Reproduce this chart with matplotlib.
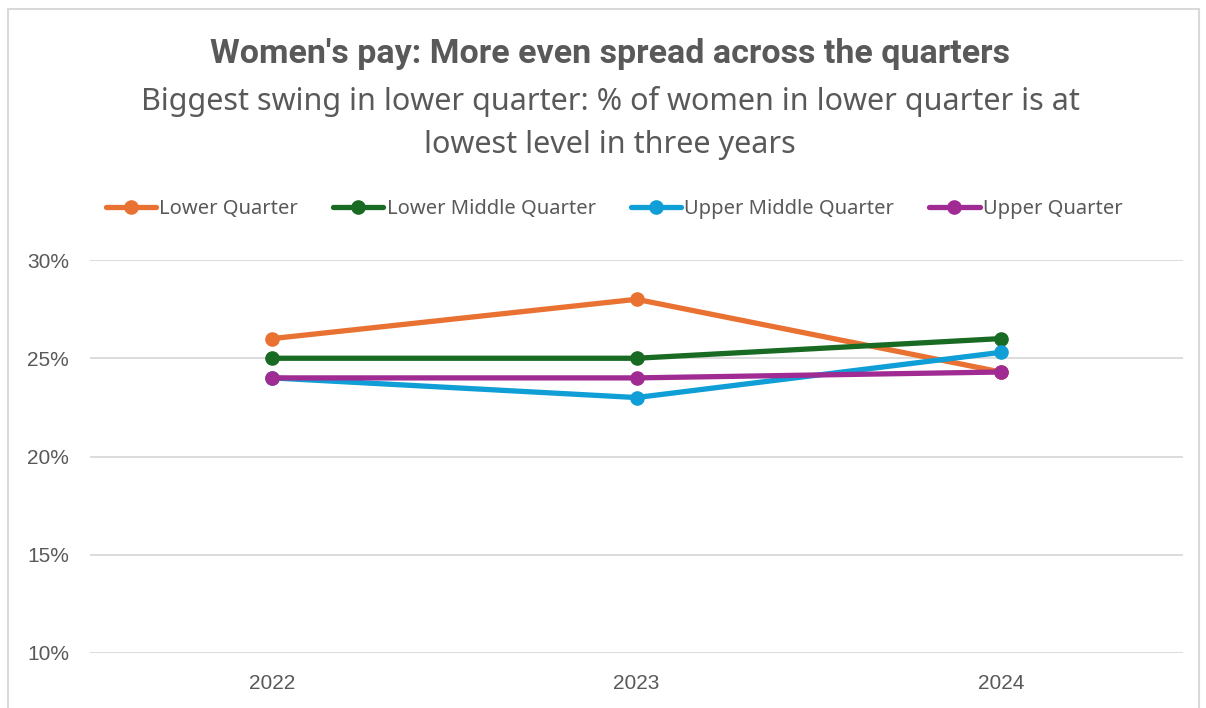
import matplotlib.pyplot as plt
from matplotlib.patches import Rectangle

# Daten
jahre = ['2022', '2023', '2024']
lower_quarter = [26.0, 28.0, 24.3]
lower_middle = [25.0, 25.0, 26.0]
upper_middle = [24.0, 23.0, 25.3]
upper_quarter = [24.0, 24.0, 24.3]

serien = [
    ('Lower Quarter', lower_quarter, '#E97132'),
    ('Lower Middle Quarter', lower_middle, '#196B24'),
    ('Upper Middle Quarter', upper_middle, '#0F9ED5'),
    ('Upper Quarter', upper_quarter, '#A02B93'),
]

grau = '#595959'
W, H = 1206, 708
fig = plt.figure(figsize=(W / 100, H / 100), dpi=100)

# Plotbereich in Pixeln: x 90..1183, y 260..653
ax = fig.add_axes([90 / W, 1 - 653 / H, (1183 - 90) / W, (653 - 260) / H])

x = range(len(jahre))
for name, werte, farbe in serien:
    ax.plot(x, werte, color=farbe, lw=3.8, marker='o', ms=9.5,
            solid_capstyle='round', label=name)

ax.set_xlim(-0.5, 2.5)
ax.set_ylim(10, 30)
ax.set_yticks([10, 15, 20, 25, 30])
ax.set_yticklabels([f'{v}%' for v in [10, 15, 20, 25, 30]])
ax.set_xticks(list(x))
ax.set_xticklabels(jahre)
ax.grid(axis='y', color='#D9D9D9', lw=1.3)
ax.set_axisbelow(True)
for s in ax.spines.values():
    s.set_visible(False)
ax.tick_params(length=0, labelsize=15, labelcolor=grau, labelfontfamily='Liberation Sans')
ax.tick_params(axis='y', pad=15)
ax.tick_params(axis='x', pad=15)

fig.text(0.506, 1 - 54 / H, "Women's pay: More even spread across the quarters",
         ha='center', va='center', fontsize=24.5, fontweight='bold', color=grau,
         family='Roboto')
fig.text(0.506, 1 - 123 / H,
         'Biggest swing in lower quarter: % of women in lower quarter is at\nlowest level in three years',
         ha='center', va='center', fontsize=22, color=grau, family='Noto Sans',
         linespacing=1.55)

leg = fig.legend(loc='center', bbox_to_anchor=(614 / W, 1 - 209 / H), ncol=4,
                 frameon=False, handlelength=2.5,
                 handletextpad=0.15, columnspacing=1.75,
                 prop={'family': 'Noto Sans', 'size': 14.5})
for t in leg.get_texts():
    t.set_color(grau)

# Rahmen um das Diagramm
fig.patches.append(Rectangle((8 / W, -0.05), (1199 - 8) / W, 1.05 - 9 / H,
                             transform=fig.transFigure, fill=False,
                             edgecolor='#D9D9D9', lw=1.5))

fig.savefig('out.png', dpi=100, facecolor='white')
